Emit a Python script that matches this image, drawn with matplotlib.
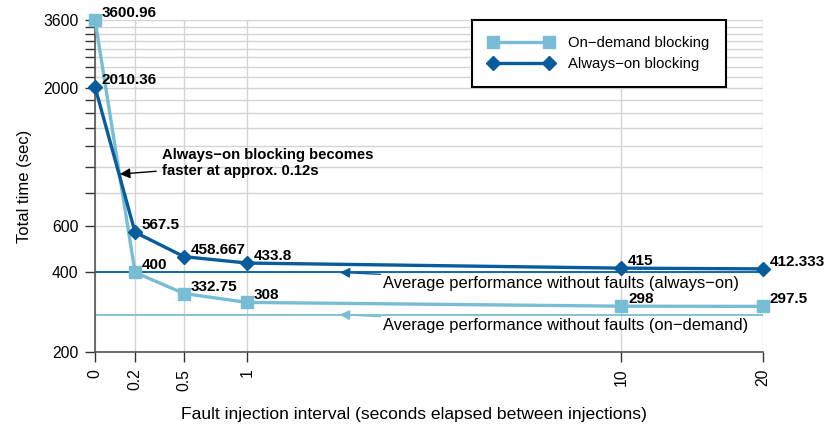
import numpy as np
import matplotlib
matplotlib.use("Agg")
import matplotlib.pyplot as plt
from matplotlib.ticker import FixedLocator, FixedFormatter, NullLocator

plt.rcParams['font.family'] = ['Liberation Sans', 'DejaVu Sans']

intervals = [0, 0.2, 0.5, 1, 10, 20]
on_demand = [3600.96, 400, 332.75, 308, 298, 297.5]
always_on = [2010.36, 567.5, 458.667, 433.8, 415, 412.333]
on_demand_labels = ["3600.96", "400", "332.75", "308", "298", "297.5"]
always_on_labels = ["2010.36", "567.5", "458.667", "433.8", "415", "412.333"]
avg_always_on = 400
avg_on_demand = 277
crossover = 0.12

light = "#78bdd3"
dark = "#085c9b"

fig = plt.figure(figsize=(8.27, 4.28), dpi=100)
ax = fig.add_axes([0.1149, 0.1776, 0.8077, 0.7757])

ax.set_xscale('function', functions=(lambda x: np.log10(np.asarray(x) + 1),
                                     lambda y: 10 ** np.asarray(y) - 1))
ax.set_yscale('log')
ax.set_xlim(0, 20)
ax.set_ylim(200, 3600)

# grid
yticks = list(range(200, 3601, 200))
ylabels = [str(v) if v in (200, 400, 600, 2000, 3600) else "" for v in yticks]
ax.yaxis.set_major_locator(FixedLocator(yticks))
ax.yaxis.set_major_formatter(FixedFormatter(ylabels))
ax.yaxis.set_minor_locator(NullLocator())
ax.xaxis.set_major_locator(FixedLocator(intervals))
ax.xaxis.set_major_formatter(FixedFormatter([str(v) for v in intervals]))
ax.xaxis.set_minor_locator(NullLocator())
ax.grid(True, color="#d4d4d4", lw=1.0, zorder=0)
ax.set_axisbelow(True)

for s in ("top", "right"):
    ax.spines[s].set_visible(False)
for s in ("left", "bottom"):
    ax.spines[s].set_color("#555555")
    ax.spines[s].set_linewidth(1.2)
ax.tick_params(axis='both', direction='out', length=7, width=1, color="#333333",
               labelsize=11.3, pad=5)
ax.tick_params(axis='x', labelrotation=90)

# average lines
ax.plot([0, 20], [avg_always_on, avg_always_on], color=dark, lw=1.3, zorder=2)
ax.plot([0, 20], [avg_on_demand, avg_on_demand], color=light, lw=1.3, zorder=2)

ax.plot(intervals, on_demand, color=light, lw=2.4, marker='s', ms=8,
        label="On\u2212demand blocking", zorder=3, clip_on=False)
ax.plot(intervals, always_on, color=dark, lw=2.4, marker='D', ms=7,
        label="Always\u2212on blocking", zorder=4, clip_on=False)

for x, y, t in zip(intervals, on_demand, on_demand_labels):
    ax.annotate(t, (x, y), xytext=(5, 0), textcoords='offset points',
                ha='left', va='bottom', fontsize=11, fontweight='bold', zorder=5)
for x, y, t in zip(intervals, always_on, always_on_labels):
    ax.annotate(t, (x, y), xytext=(5, 0), textcoords='offset points',
                ha='left', va='bottom', fontsize=11, fontweight='bold', zorder=5)

# crossover annotation
cross_y = np.interp(crossover, [0, 0.2], [np.log10(always_on[0]), np.log10(always_on[1])])
ax.annotate("Always\u2212on blocking becomes\nfaster at approx. 0.12s",
            xy=(crossover, 10 ** cross_y), xytext=(0.355, 1040),
            ha='left', va='center', fontsize=10.7, fontweight='bold',
            arrowprops=dict(arrowstyle='-|>', color='black', lw=1, mutation_scale=15,
                            shrinkA=2, shrinkB=0), zorder=6)

ax.annotate("Average performance without faults (always\u2212on)",
            xy=(2.05, avg_always_on), xytext=(2.72, 364),
            ha='left', va='center', fontsize=11.9,
            arrowprops=dict(arrowstyle='-|>', color=dark, lw=1, mutation_scale=15,
                            shrinkA=0, shrinkB=0), zorder=6)
ax.annotate("Average performance without faults (on\u2212demand)",
            xy=(2.05, avg_on_demand), xytext=(2.72, 251),
            ha='left', va='center', fontsize=11.9,
            arrowprops=dict(arrowstyle='-|>', color=light, lw=1, mutation_scale=15,
                            shrinkA=0, shrinkB=0), zorder=6)

leg = ax.legend(loc='upper left', bbox_to_anchor=(0.564, 1.0), borderaxespad=0,
                fontsize=10.7, numpoints=2, frameon=True, fancybox=False,
                edgecolor='black', handlelength=4.4, borderpad=1.1,
                labelspacing=0.45, handletextpad=1.0, framealpha=1)
leg.get_frame().set_linewidth(1.5)

ax.set_ylabel("Total time (sec)", fontsize=12, labelpad=8)
ax.set_xlabel("Fault injection interval (seconds elapsed between injections)",
              fontsize=12.6, labelpad=12)
ax.xaxis.label.set_x(0.477)

fig.savefig("out.png", dpi=100)
